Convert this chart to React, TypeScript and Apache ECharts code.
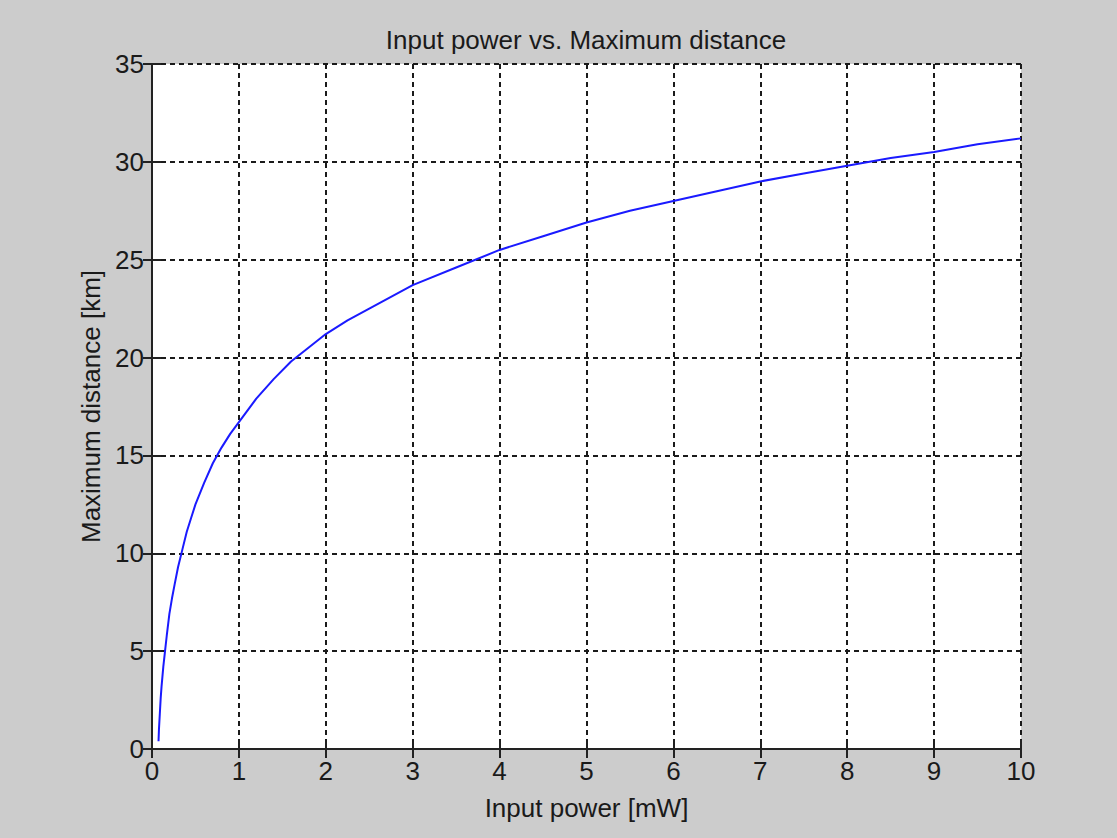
import React, { useEffect, useRef } from "react";
import * as echarts from "echarts";

const powerMw = [0.075, 0.08, 0.09, 0.1, 0.11, 0.12, 0.13, 0.15, 0.17, 0.2, 0.23, 0.26, 0.3, 0.35, 0.4, 0.45, 0.5, 0.6, 0.7, 0.8, 0.9, 1.0, 1.2, 1.4, 1.6, 1.8, 2.0, 2.25, 2.5, 2.75, 3.0, 3.5, 4.0, 4.5, 5.0, 5.5, 6.0, 6.5, 7.0, 7.5, 8.0, 8.5, 9.0, 9.5, 10.0];
const distanceKm = [0.4, 1.0, 1.8, 2.6, 3.2, 3.7, 4.2, 5.0, 5.8, 6.9, 7.7, 8.4, 9.3, 10.2, 11.1, 11.8, 12.5, 13.6, 14.6, 15.4, 16.1, 16.7, 17.9, 18.9, 19.8, 20.5, 21.2, 21.9, 22.5, 23.1, 23.7, 24.6, 25.5, 26.2, 26.9, 27.5, 28.0, 28.5, 29.0, 29.4, 29.8, 30.2, 30.5, 30.9, 31.2];

const xTicks = [0, 1, 2, 3, 4, 5, 6, 7, 8, 9, 10];
const yTicks = [0, 5, 10, 15, 20, 25, 30, 35];

const titleText = "Input power vs. Maximum distance";
const xLabel = "Input power [mW]";
const yLabel = "Maximum distance [km]";

export default function App() {
  const ref = useRef<HTMLDivElement>(null);
  useEffect(() => {
    if (!ref.current) return;
    const chart = echarts.init(ref.current, undefined, { renderer: "svg" });
    const tickFont = "'Liberation Sans', Arial, sans-serif";
    const textFont = "'Liberation Sans', Arial, sans-serif";
    const gridLine = { show: true, lineStyle: { color: "#1a1a1a", width: 2, type: [5, 4] as any } };
    const axisLine = { show: true, lineStyle: { color: "#222", width: 2 } };
    const tick = { show: true, inside: true, length: 9, lineStyle: { color: "#222", width: 2 } };
    const data = powerMw.map((p, i) => [p, distanceKm[i]]);
    chart.setOption({
      animation: false,
      backgroundColor: "#cccccc",
      title: {
        text: titleText,
        left: 581,
        top: 22,
        textAlign: "center",
        textStyle: { fontFamily: textFont, fontSize: 26, fontWeight: "normal", color: "#1a1a1a" },
      },
      grid: { left: 152, right: 96, top: 64, bottom: 89, show: true, backgroundColor: "#ffffff", borderWidth: 0 },
      xAxis: [
        {
          type: "value",
          min: xTicks[0],
          max: xTicks[xTicks.length - 1],
          interval: 1,
          name: xLabel,
          nameLocation: "middle",
          nameGap: 46,
          nameTextStyle: { fontFamily: textFont, fontSize: 26, color: "#1a1a1a" },
          axisLine,
          axisTick: tick,
          splitLine: gridLine,
          axisLabel: { margin: 9, fontFamily: tickFont, fontSize: 26, color: "#1a1a1a" },
        },
        {
          type: "value",
          position: "top",
          min: xTicks[0],
          max: xTicks[xTicks.length - 1],
          interval: 1,
          axisLine,
          axisTick: tick,
          splitLine: { show: false },
          axisLabel: { show: false },
        },
      ],
      yAxis: [
        {
          type: "value",
          min: yTicks[0],
          max: yTicks[yTicks.length - 1],
          interval: 5,
          name: yLabel,
          nameLocation: "middle",
          nameGap: 48,
          nameTextStyle: { fontFamily: textFont, fontSize: 26, color: "#1a1a1a" },
          axisLine,
          axisTick: tick,
          splitLine: gridLine,
          axisLabel: { margin: 8, fontFamily: tickFont, fontSize: 26, color: "#1a1a1a" },
        },
        {
          type: "value",
          position: "right",
          min: yTicks[0],
          max: yTicks[yTicks.length - 1],
          interval: 5,
          axisLine,
          axisTick: tick,
          splitLine: { show: false },
          axisLabel: { show: false },
        },
      ],
      series: [
        {
          type: "line",
          data,
          xAxisIndex: 0,
          yAxisIndex: 0,
          showSymbol: false,
          smooth: false,
          lineStyle: { color: "#1a1aff", width: 2 },
          z: 5,
        },
      ],
    });
    return () => chart.dispose();
  }, []);
  return <div ref={ref} style={{ position: "fixed", left: 0, top: 0, width: 1117, height: 838 }} />;
}
